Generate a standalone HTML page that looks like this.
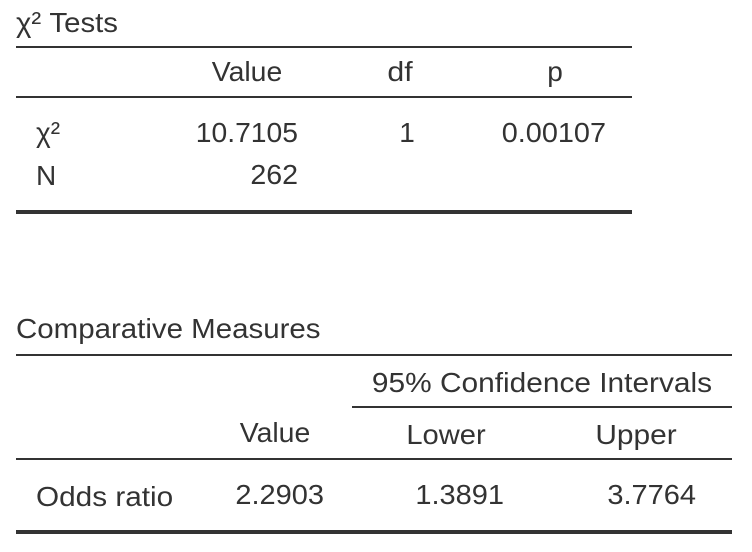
<!DOCTYPE html>
<html>
<head>
<meta charset="utf-8">
<style>
html,body{margin:0;padding:0;background:#fff;}
#page{position:relative;width:752px;height:552px;overflow:hidden;background:#fff;font-family:"Liberation Sans",sans-serif;font-size:28px;color:#333;}
.t{position:absolute;white-space:nowrap;line-height:32px;height:32px;transform-origin:left center;transform:scaleX(var(--s,1));}
.r{transform-origin:right center;transform:translateX(-100%) scaleX(var(--s,1));}
.c{transform-origin:center center;transform:translateX(-50%) scaleX(var(--s,1));}
.l{position:absolute;background:#333;}
</style>
</head>
<body>
<div id="page">
<div class="t" style="left:16px;top:7px;--s:1.05">χ² Tests</div>
<div class="l" style="left:16px;top:46px;width:616px;height:2px"></div>
<div class="t c" style="left:247px;top:56px;--s:1.014">Value</div>
<div class="t c" style="left:400px;top:56px;--s:1.08">df</div>
<div class="t c" style="left:555px;top:56px">p</div>
<div class="l" style="left:16px;top:96px;width:616px;height:2px"></div>
<div class="t" style="left:36px;top:117px">χ²</div>
<div class="t r" style="left:298px;top:117px;--s:1.01">10.7105</div>
<div class="t c" style="left:407px;top:117px">1</div>
<div class="t r" style="left:606px;top:117px;--s:1.03">0.00107</div>
<div class="t" style="left:36px;top:160px">N</div>
<div class="t r" style="left:298px;top:159px;--s:1.02">262</div>
<div class="l" style="left:16px;top:210px;width:616px;height:4px"></div>

<div class="t" style="left:16px;top:313px;--s:1.052">Comparative Measures</div>
<div class="l" style="left:16px;top:354px;width:716px;height:2px"></div>
<div class="t c" style="left:542px;top:367px;--s:1.066">95% Confidence Intervals</div>
<div class="l" style="left:352px;top:406px;width:380px;height:2px"></div>
<div class="t c" style="left:275px;top:417px;--s:1.014">Value</div>
<div class="t c" style="left:446px;top:419px;--s:1.04">Lower</div>
<div class="t c" style="left:636px;top:419px;--s:1.066">Upper</div>
<div class="l" style="left:16px;top:458px;width:716px;height:2px"></div>
<div class="t" style="left:36px;top:481px;--s:1.062">Odds ratio</div>
<div class="t r" style="left:324px;top:479px;--s:1.035">2.2903</div>
<div class="t r" style="left:504px;top:479px;--s:1.035">1.3891</div>
<div class="t r" style="left:696px;top:479px;--s:1.035">3.7764</div>
<div class="l" style="left:16px;top:530px;width:716px;height:4px"></div>
</div>
</body>
</html>
